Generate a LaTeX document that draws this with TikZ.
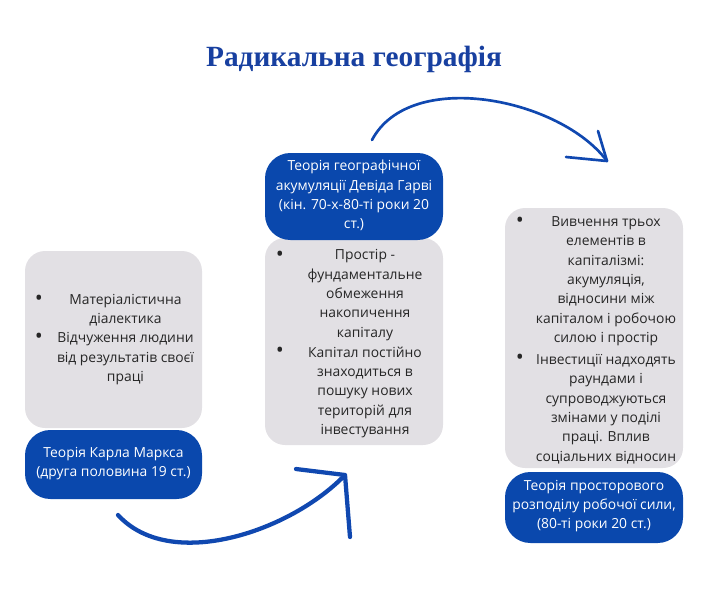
\documentclass[tikz,border=0pt]{standalone}
\usepackage{fontspec}
\setmainfont{Open Sans}
\newfontfamily\titlefont{Liberation Serif}
\usetikzlibrary{fit}
\definecolor{boxblue}{RGB}{10,72,173}
\definecolor{boxgrey}{RGB}{226,224,228}
\definecolor{titleblue}{RGB}{24,64,160}
\definecolor{arrowblue}{RGB}{16,72,176}
\tikzset{
  greybox/.style={fill=boxgrey, rounded corners=15pt, inner sep=0pt},
  bluebox/.style={fill=boxblue, rounded corners=19pt, inner sep=0pt},
  bodytext/.style={font=\fontsize{10.4pt}{14.5pt}\selectfont, text=black!85, align=center, inner sep=0pt},
  whitetext/.style={bodytext, text=white},
  bullet/.style={font=\fontsize{16pt}{16pt}\selectfont, text=black!85, inner sep=0pt},
  curvearrow/.style={draw=arrowblue, line cap=round, line join=round},
}
\begin{document}
\begin{tikzpicture}[x=0.75pt, y=-0.75pt]
\useasboundingbox (0,0) rectangle (708,594);
% title
\node[text=titleblue, font=\titlefont\bfseries\fontsize{22pt}{26pt}\selectfont, inner sep=0pt] (title) at (354,59) {Радикальна географія};

% left column
\node[greybox, fit={(25,251)(202,428)}] (g1) {};
\node[bluebox, fit={(25,430)(202,499)}] (b1) {};
\node[bullet] (g1b1) at (39,300) {•};
\node[bodytext] (g1t1) at (125.5,310.3) {Матеріалістична\\діалектика};
\node[bullet] (g1b2) at (39,338.5) {•};
\node[bodytext] (g1t2) at (125.5,358.7) {Відчуження людини\\від результатів своєї\\праці};
\node[whitetext] (b1t) at (113.5,463.5) {Теорія Карла Маркса\\(друга половина 19 ст.)};

% middle column
\node[greybox, fit={(265,238)(443,445)}] (g2) {};
\node[bluebox, fit={(265,153)(443,240)}] (b2) {};
\node[whitetext] (b2t) at (354,195.5) {Теорія географічної\\акумуляції Девіда Гарві\\(кін. 70-х-80-ті роки 20\\ст.)};
\node[bullet] (g2b1) at (280,256) {•};
\node[bodytext] (g2t1) at (365,295) {Простір -\\фундаментальне\\обмеження\\накопичення\\капіталу};
\node[bullet] (g2b2) at (280,352) {•};
\node[bodytext] (g2t2) at (365,392.3) {Капітал постійно\\знаходиться в\\пошуку нових\\територій для\\інвестування};

% right column
\node[greybox, fit={(505,208)(683,468)}] (g3) {};
\node[bluebox, fit={(505,472)(683,543)}] (b3) {};
\node[bullet] (g3b1) at (520,222) {•};
\node[bodytext] (g3t1) at (606,281.3) {Вивчення трьох\\елементів в\\капіталізмі:\\акумуляція,\\відносини між\\капіталом і робочою\\силою і простір};
\node[bullet] (g3b2) at (520,359) {•};
\node[bodytext] (g3t2) at (606,409) {Інвестиції надходять\\раундами і\\супроводжуються\\змінами у поділі\\праці. Вплив\\соціальних відносин};
\node[whitetext] (b3t) at (594,506) {Теорія просторового\\розподілу робочої сили,\\(80-ті роки 20 ст.)};

% bottom arrow
\coordinate (a1s) at (118,515);
\coordinate (a1e) at (345,475);
\coordinate (a1l) at (296,469);
\coordinate (a1r) at (350,537);
\draw[curvearrow, line width=3.2pt] (a1s) .. controls (170,572) and (290,532) .. (a1e);
\draw[curvearrow, line width=3.2pt] (a1l) -- (a1e) -- (a1r);

% top arrow
\coordinate (a2s) at (372,140);
\coordinate (a2e) at (607,161);
\coordinate (a2l) at (566,157);
\coordinate (a2r) at (598,131);
\draw[curvearrow, line width=2pt] (a2s) .. controls (410,68) and (560,98) .. (a2e);
\draw[curvearrow, line width=2pt] (a2l) -- (a2e) -- (a2r);
\end{tikzpicture}
\end{document}
